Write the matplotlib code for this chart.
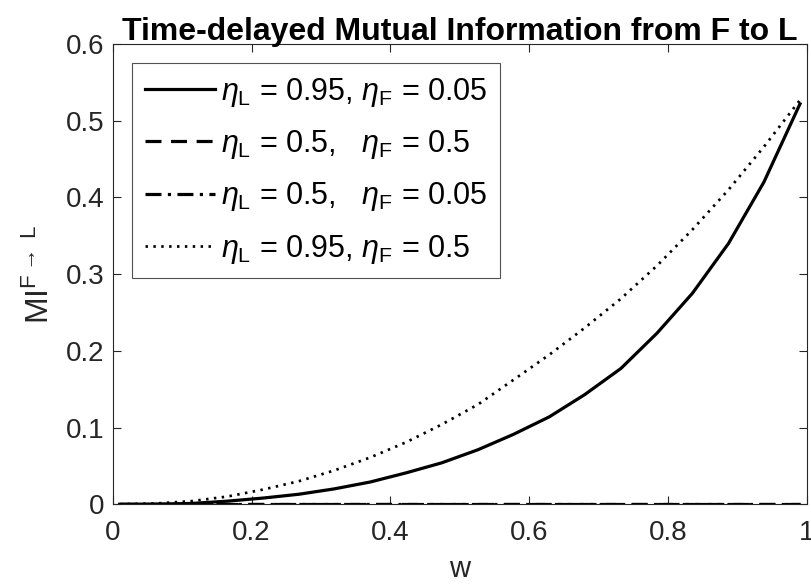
import numpy as np
import matplotlib.pyplot as plt

plt.rcParams['font.family'] = ['Liberation Sans', 'DejaVu Sans']
plt.rcParams['mathtext.fontset'] = 'custom'
plt.rcParams['mathtext.rm'] = 'Liberation Sans'
plt.rcParams['mathtext.it'] = 'Liberation Sans:italic'
plt.rcParams['mathtext.bf'] = 'Liberation Sans:bold'

# coupling strength grid
w = [0.01, 0.062, 0.113, 0.165, 0.216, 0.268, 0.319, 0.371, 0.423, 0.474,
     0.526, 0.577, 0.629, 0.68, 0.732, 0.784, 0.835, 0.887, 0.938, 0.99]

# time-delayed MI for each (eta_L, eta_F) pair
mi_095_005 = [0.0, 0.0002, 0.001, 0.004, 0.008, 0.013, 0.020, 0.029, 0.041, 0.054,
              0.071, 0.091, 0.114, 0.143, 0.177, 0.223, 0.275, 0.340, 0.420, 0.522]
mi_05_05 = [0.0] * 20
mi_05_005 = [0.0] * 20
mi_095_05 = [0.0, 0.001, 0.004, 0.010, 0.019, 0.030, 0.044, 0.061, 0.081, 0.104,
             0.130, 0.162, 0.195, 0.230, 0.268, 0.311, 0.358, 0.410, 0.466, 0.527]

labels = [r'$\eta_{\mathrm{L}}$ = 0.95, $\eta_{\mathrm{F}}$ = 0.05',
          r'$\eta_{\mathrm{L}}$ = 0.5,   $\eta_{\mathrm{F}}$ = 0.5',
          r'$\eta_{\mathrm{L}}$ = 0.5,   $\eta_{\mathrm{F}}$ = 0.05',
          r'$\eta_{\mathrm{L}}$ = 0.95, $\eta_{\mathrm{F}}$ = 0.5']

fig = plt.figure(figsize=(8.11, 5.87), dpi=100)
ax = fig.add_axes([0.139, 0.141, 0.856, 0.784])

lw = 2.3
ax.plot(w, mi_095_005, color='k', lw=lw, ls='-', label=labels[0])
ax.plot(w, mi_05_05, color='k', lw=lw, ls=(0, (5, 3)), label=labels[1])
ax.plot(w, mi_05_005, color='k', lw=lw, ls=(0, (5, 2, 1, 2)), label=labels[2])
ax.plot(w, mi_095_05, color='k', lw=lw * 0.85, ls=(0, (0.9, 2.0)), label=labels[3])

ax.set_xlim(0, 1)
ax.set_ylim(0, 0.6)
ax.set_xticks([0, 0.2, 0.4, 0.6, 0.8, 1])
ax.set_xticklabels(['0', '0.2', '0.4', '0.6', '0.8', '1'])
ax.set_yticks([0, 0.1, 0.2, 0.3, 0.4, 0.5, 0.6])
ax.set_yticklabels(['0', '0.1', '0.2', '0.3', '0.4', '0.5', '0.6'])

ax.tick_params(direction='in', top=True, right=True, length=6, width=0.8,
               colors='0.15', labelsize=20, pad=6)
ax.tick_params(axis='x', pad=11)
for sp in ax.spines.values():
    sp.set_color('0.15')
    sp.set_linewidth(0.8)

ax.set_xlabel('w', fontsize=21, color='0.15', labelpad=7)
ax.set_ylabel(r'MI$^{\mathrm{F}\rightarrow\ \mathrm{L}}$', fontsize=23, color='0.15', labelpad=7)
ax.set_title('Time-delayed Mutual Information from F to L', fontsize=23,
             fontweight='bold', pad=3)

leg = ax.legend(loc='upper left', fontsize=22, frameon=True, fancybox=False,
                edgecolor='0.15', handlelength=2.3, handletextpad=0.2,
                borderaxespad=0.62, labelspacing=0.63, borderpad=0.42)
leg.get_frame().set_linewidth(0.8)

fig.savefig('out.png', dpi=100)
